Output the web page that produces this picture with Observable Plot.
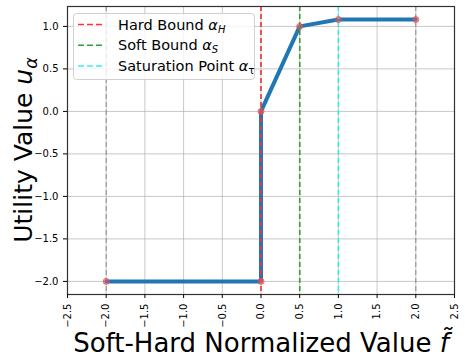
<!DOCTYPE html>
<html><head><meta charset="utf-8">
<script src="https://cdn.jsdelivr.net/npm/d3@7"></script>
<script src="https://cdn.jsdelivr.net/npm/@observablehq/plot@0.6"></script>
<style>body{margin:0;background:#fff;font-family:"DejaVu Sans",sans-serif}</style>
</head><body><div id="chart"></div>
<script>
const xValues = [-2, 0, 0, 0.5, 1, 2];
const yValues = [-2, -2, 0, 1.0, 1.08, 1.08];
const rangeLines = [-2, 2];
const boundNames = ["Hard Bound", "Soft Bound", "Saturation Point"];
const boundSubs = ["H", "S", "τ"];
const boundX = [0, 0.5, 1];
const boundColors = ["#ff3030", "#30a030", "#30f0f8"];
const xTicks = [-2.5, -2, -1.5, -1, -0.5, 0, 0.5, 1, 1.5, 2, 2.5];
const yTicks = [-2, -1.5, -1, -0.5, 0, 0.5, 1];

const pts = xValues.map((x, i) => ({x, y: yValues[i]}));
const bounds = boundX.map((x, i) => ({x, c: boundColors[i]}));

const W = 465, H = 363;
const plot = Plot.plot({
  width: W, height: H,
  marginLeft: 67, marginRight: 11, marginTop: 6, marginBottom: 69,
  style: {fontFamily: "DejaVu Sans, sans-serif", fontSize: "10px", color: "#000", background: "#fff"},
  x: {domain: [-2.5, 2.5], ticks: xTicks, tickFormat: d3.format(".1f"), tickRotate: -90, label: null, tickSize: 4, tickPadding: 3},
  y: {domain: [-2.154, 1.234], ticks: yTicks, tickFormat: d3.format(".1f"), label: null, tickSize: 4, tickPadding: 3},
  marks: [
    Plot.gridX(xTicks, {stroke: "#b0b0b0", strokeOpacity: 0.7, strokeWidth: 1}),
    Plot.gridY(yTicks, {stroke: "#b0b0b0", strokeOpacity: 0.7, strokeWidth: 1}),
    Plot.ruleX(rangeLines, {stroke: "#888", strokeDasharray: "5,3", strokeWidth: 1}),
    Plot.ruleX(boundX, {stroke: "#888", strokeDasharray: "5,3", strokeWidth: 1}),
    Plot.line(pts, {x: "x", y: "y", stroke: "#1f77b4", strokeWidth: 4}),
    Plot.ruleX(bounds, {x: "x", stroke: "c", strokeDasharray: "5,3", strokeWidth: 1.5}),
    Plot.dot(pts, {x: "x", y: "y", r: 3, stroke: "#ff4040", strokeOpacity: 0.8, fill: "#ff6060", fillOpacity: 0.4, strokeWidth: 1}),
    Plot.frame({stroke: "#333", strokeWidth: 1.2}),
    Plot.axisX({ticks: xTicks, tickFormat: d3.format(".1f"), tickRotate: -90, label: null, tickSize: 4}),
    Plot.axisY({ticks: yTicks, tickFormat: d3.format(".1f"), label: null, tickSize: 4})
  ]
});
document.getElementById("chart").appendChild(plot);

const svg = d3.select(plot);
// Legend
const lg = svg.append("g").attr("text-anchor", "start");
lg.append("rect").attr("x", 73.5).attr("y", 13.5).attr("width", 181).attr("height", 66)
  .attr("rx", 3).attr("fill", "#fff").attr("fill-opacity", 0.8).attr("stroke", "#d0d0d0");
boundNames.forEach((name, i) => {
  const yy = 24.5 + i * 20.8;
  lg.append("line").attr("x1", 78).attr("x2", 104).attr("y1", yy).attr("y2", yy)
    .attr("stroke", boundColors[i]).attr("stroke-width", 1.5).attr("stroke-dasharray", "6,3");
  const t = lg.append("text").attr("x", 118).attr("y", yy + 5).attr("font-size", 14.5)
    .attr("text-anchor", "start")
    .attr("font-family", "DejaVu Sans, sans-serif").attr("fill", "#000");
  t.append("tspan").text(name + " ");
  t.append("tspan").attr("font-style", "italic").text("α");
  t.append("tspan").attr("font-size", 10).attr("dy", 3).attr("font-style", i === 2 ? "normal" : "italic").text(boundSubs[i]);
});

// Y label
const yl = svg.append("text").attr("transform", "translate(32,150) rotate(-90)")
  .attr("text-anchor", "middle").attr("font-size", 25).attr("font-family", "DejaVu Sans, sans-serif").attr("fill", "#000");
yl.append("tspan").text("Utility Value ");
yl.append("tspan").attr("font-style", "italic").text("u");
yl.append("tspan").attr("font-style", "italic").attr("font-size", 17.5).attr("dy", 5).text("α");

// X label
const xl = svg.append("text").attr("x", 261).attr("y", 352)
  .attr("text-anchor", "middle").attr("font-size", 26).attr("font-family", "DejaVu Sans, sans-serif").attr("fill", "#000");
xl.append("tspan").text("Soft-Hard Normalized Value ");
xl.append("tspan").attr("font-style", "italic").text("f\u0303");
</script></body></html>
